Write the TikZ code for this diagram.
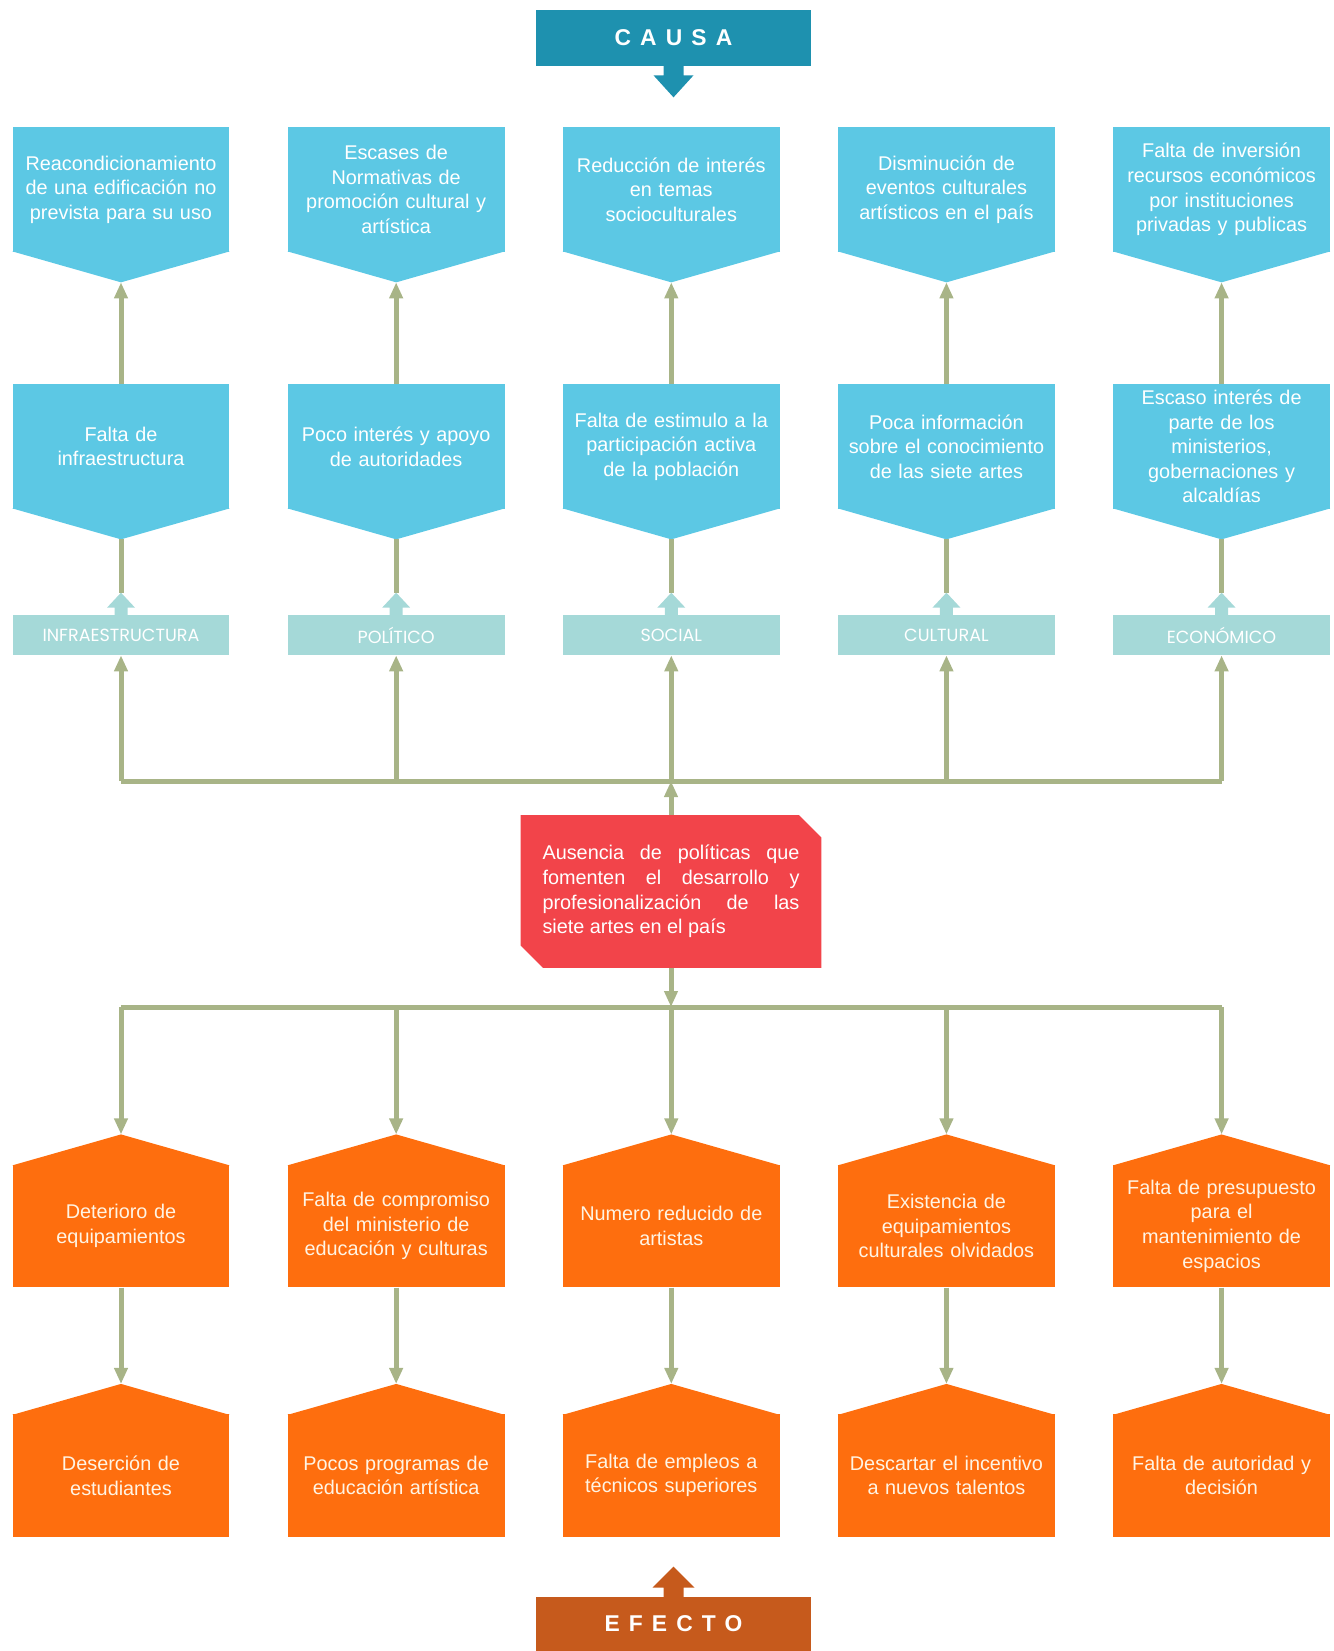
\documentclass[tikz,border=0pt]{standalone}
\usepackage{fontspec}
\setmainfont{Liberation Sans}
\newfontfamily\areafont{Poppins}
\usepackage{xcolor}
\definecolor{accent}{RGB}{30,145,175}
\definecolor{accent2}{RGB}{198,90,28}
\definecolor{causecol}{RGB}{92,200,228}
\definecolor{areacol}{RGB}{165,217,216}
\definecolor{corecol}{RGB}{242,68,74}
\definecolor{effectcol}{RGB}{254,110,14}
\definecolor{effecttext}{RGB}{255,244,228}
\definecolor{linkcol}{RGB}{168,180,135}
\usepackage{tikz}
\usetikzlibrary{arrows.meta,positioning,shapes.misc,calc}
\tikzset{
  causebox/.style={fill=causecol,text=white,font=\fontsize{11.3}{14}\selectfont,%
    text width=4.1cm,inner xsep=0.12cm,inner ysep=0pt,minimum height=2.5cm,align=center},
  areabar/.style={fill=areacol,text=white,font=\areafont\fontsize{10}{12}\selectfont,%
    minimum width=4.34cm,minimum height=0.8cm,inner sep=0pt},
  corebox/.style={chamfered rectangle,chamfered rectangle corners={north east,south west},%
    chamfered rectangle xsep=0.22cm,chamfered rectangle ysep=0.23cm,fill=corecol,text=white,%
    font=\fontsize{11.3}{14}\selectfont,text width=5.14cm,inner xsep=0.22cm,%
    minimum height=3.06cm,align=justify},
  effectbox/.style={causebox,fill=effectcol,text=effecttext,minimum height=2.45cm},
  titlebox/.style={minimum width=5.5cm,text=white,%
    font=\bfseries\fontsize{13}{15}\selectfont\addfontfeatures{LetterSpace=40}},
  link/.style={draw=linkcol,line width=0.1cm},
  flow/.style={link,-{Triangle[length=0.32cm,width=0.26cm]}},
}

\begin{document}
\begin{tikzpicture}[x=0.02cm,y=-0.02cm,node distance=5mm and 1.15cm]
\useasboundingbox (0,0) rectangle (1334,1651);
% titles
\node[titlebox,fill=accent,minimum height=1.12cm] (causa) at (673.5,38) {CAUSA};
\node[titlebox,fill=accent2,minimum height=1.08cm] (efecto) at (673.5,1624) {EFECTO};
\fill[accent] ($(causa.south)+(-10,-1)$) -- ++(0,10) -- ++(-10,0) -- ($(causa.south)+(0,31)$)
  -- ($(causa.south)+(20,9)$) -- ++(-10,0) -- ++(0,-10) -- cycle;
\fill[accent2] ($(efecto.north)+(-10,1)$) -- ++(0,-10) -- ++(-11,0) -- ($(efecto.north)+(0,-30)$)
  -- ($(efecto.north)+(21,-9)$) -- ++(-11,0) -- ++(0,10) -- cycle;

% causes
\node[causebox] (c1) at (121,189.5) {Reacondicionamiento\\de una edificación no\\prevista para su uso};
\node[causebox,right=of c1] (c2) {Escases de\\Normativas de\\promoción cultural y\\artística};
\node[causebox,right=of c2] (c3) {Reducción de interés\\en temas\\socioculturales};
\node[causebox,right=of c3] (c4) {Disminución de\\eventos culturales\\artísticos en el país};
\node[causebox,right=of c4] (c5) {Falta de inversión\\recursos económicos\\por instituciones\\privadas y publicas};

\node[causebox] (p1) at (121,446.5) {Falta de\\infraestructura};
\node[causebox,right=of p1] (p2) {Poco interés y apoyo\\de autoridades};
\node[causebox,right=of p2] (p3) {Falta de estimulo a la\\participación activa\\de la población};
\node[causebox,right=of p3] (p4) {Poca información\\sobre el conocimiento\\de las siete artes};
\node[causebox,right=of p4] (p5) {Escaso interés de\\parte de los\\ministerios,\\gobernaciones y\\alcaldías};

\node[areabar] (a1) at (121,635) {INFRAESTRUCTURA};
\node[areabar,right=of a1] (a2) {POLÍTICO};
\node[areabar,right=of a2] (a3) {SOCIAL};
\node[areabar,right=of a3] (a4) {CULTURAL};
\node[areabar,right=of a4] (a5) {ECONÓMICO};

% central problem
\node[corebox] (core) at (671,891.5) {Ausencia de políticas que\linebreak fomenten el desarrollo y\linebreak
  profesionalización de las\linebreak siete artes en el país};

% effects
\node[effectbox] (e1) at (121,1226) {Deterioro de\\equipamientos};
\node[effectbox,right=of e1] (e2) {Falta de compromiso\\del ministerio de\\educación y culturas};
\node[effectbox,right=of e2] (e3) {Numero reducido de\\artistas};
\node[effectbox,right=of e3] (e4) {Existencia de\\equipamientos\\culturales olvidados};
\node[effectbox,right=of e4] (e5) {Falta de presupuesto\\para el\\mantenimiento de\\espacios};

\node[effectbox] (f1) at (121,1475.5) {Deserción de\\estudiantes};
\node[effectbox,right=of f1] (f2) {Pocos programas de\\educación artística};
\node[effectbox,right=of f2] (f3) {Falta de empleos a\\técnicos superiores};
\node[effectbox,right=of f3] (f4) {Descartar el incentivo\\a nuevos talentos};
\node[effectbox,right=of f4] (f5) {Falta de autoridad y\\decisión};

% pointed ends
\foreach \n in {c1,c2,c3,c4,c5,p1,p2,p3,p4,p5}
  \fill[causecol] ($(\n.south west)+(0,-1)$) -- ($(\n.south east)+(0,-1)$) -- ($(\n.south)+(0,30)$) -- cycle;
\foreach \n in {e1,e2,e3,e4,e5,f1,f2,f3,f4,f5}
  \fill[effectcol] ($(\n.north west)+(0,1)$) -- ($(\n.north east)+(0,1)$) -- ($(\n.north)+(0,-30)$) -- cycle;
\foreach \n in {a1,a2,a3,a4,a5}
  \fill[areacol] ($(\n.north)+(-6.5,1)$) -- ++(0,-8) -- ++(-7.5,0) -- ($(\n.north)+(0,-22)$)
    -- ($(\n.north)+(14,-7)$) -- ++(-7.5,0) -- ++(0,8) -- cycle;

% connectors
\coordinate (busT) at (0,781);
\coordinate (busB) at (0,1007);
\draw[link] (a1 |- busT) -- (a5 |- busT);
\draw[link] (e1 |- busB) -- (e5 |- busB);
\draw[flow] (core.north) -- (core |- busT);
\draw[flow] (core.south) -- (core |- busB);
\foreach \i in {1,...,5} {
  \draw[flow] (p\i.north) -- ($(c\i.south)+(0,30)$);
  \draw[link] ($(p\i.south)+(0,30)$) -- ($(a\i.north)+(0,-22)$);
  \draw[flow] (a\i |- busT) -- (a\i.south);
  \draw[flow] (e\i |- busB) -- ($(e\i.north)+(0,-30)$);
  \draw[flow] (e\i.south) -- ($(f\i.north)+(0,-30)$);
}
\end{tikzpicture}
\end{document}
